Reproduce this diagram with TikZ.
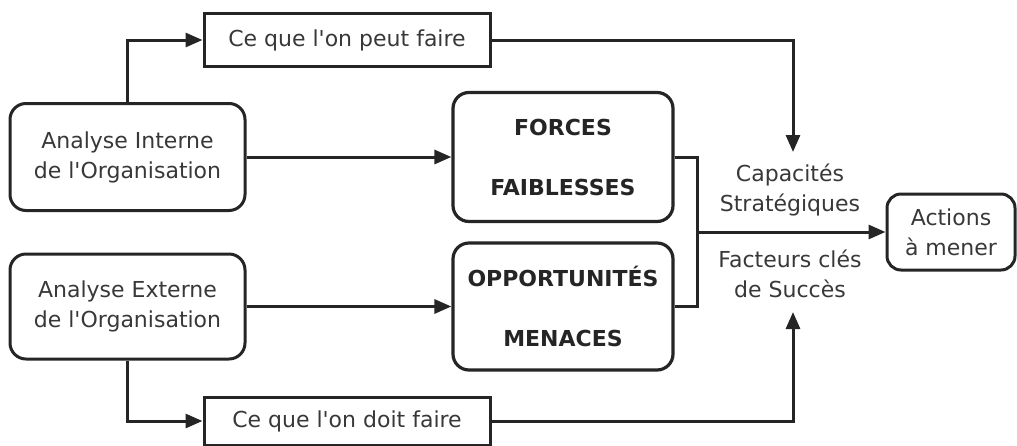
\documentclass[tikz,border=0pt]{standalone}
\usepackage{fontspec}
\setmainfont{DejaVu Sans}
\usetikzlibrary{arrows.meta,calc}
\definecolor{ink}{HTML}{252525}
\definecolor{txt}{HTML}{383838}
\tikzset{
  box/.style={draw=ink, line width=3pt, rectangle, inner sep=0pt, align=center, text=txt,
    font=\fontsize{22}{30}\selectfont},
  rbox/.style={box, rounded corners=16pt},
  bbox/.style={rbox, line width=3.2pt, text=ink, font=\fontsize{22}{60}\bfseries\selectfont},
  lbl/.style={align=center, text=txt, inner sep=0pt, font=\fontsize{22}{30}\selectfont},
  conn/.style={draw=ink, line width=3pt},
  arr/.style={conn, -{Triangle[length=17pt,width=14pt]}}
}
\newcommand{\apos}{\textquotesingle}
\begin{document}
\begin{tikzpicture}[x=1pt,y=-1pt]
\useasboundingbox (0,0) rectangle (1017,445);
\node[box, minimum width=286pt, minimum height=53pt] (peut) at (347,40) {Ce que l\apos on peut faire};
\node[rbox, minimum width=235pt, minimum height=107pt] (interne) at (127.5,157) {Analyse Interne\\de l\apos Organisation};
\node[bbox, minimum width=220pt, minimum height=129pt] (forces) at (563,157) {FORCES\\FAIBLESSES};
\node[bbox, minimum width=220pt, minimum height=127pt] (opp) at (563,306.5) {OPPORTUNITÉS\\MENACES};
\node[rbox, minimum width=235pt, minimum height=105pt] (externe) at (127.5,306.5) {Analyse Externe\\de l\apos Organisation};
\node[box, minimum width=286pt, minimum height=48pt] (doit) at (347,421) {Ce que l\apos on doit faire};
\node[lbl] (cap) at (790,190) {Capacités\\Stratégiques};
\node[lbl] (fac) at (790,274) {Facteurs clés\\de Succès};
\node[rbox, minimum width=128pt, minimum height=76pt, rounded corners=14pt] (actions) at (951,232) {Actions\\à mener};
\coordinate (capTop) at (793,152);
\coordinate (facBot) at (793,312);
\coordinate (junc) at (697,232);
\draw[arr] (interne.north) |- (peut.west);
\draw[arr] (peut.east) -| (capTop);
\draw[arr] (interne.east) -- (forces.west);
\draw[arr] (externe.east) -- (opp.west);
\draw[arr] (externe.south) |- (doit.west);
\draw[arr] (doit.east) -| (facBot);
\draw[conn] (forces.east) -| (junc) |- (opp.east);
\draw[arr] (junc) -- (actions.west);
\end{tikzpicture}
\end{document}
